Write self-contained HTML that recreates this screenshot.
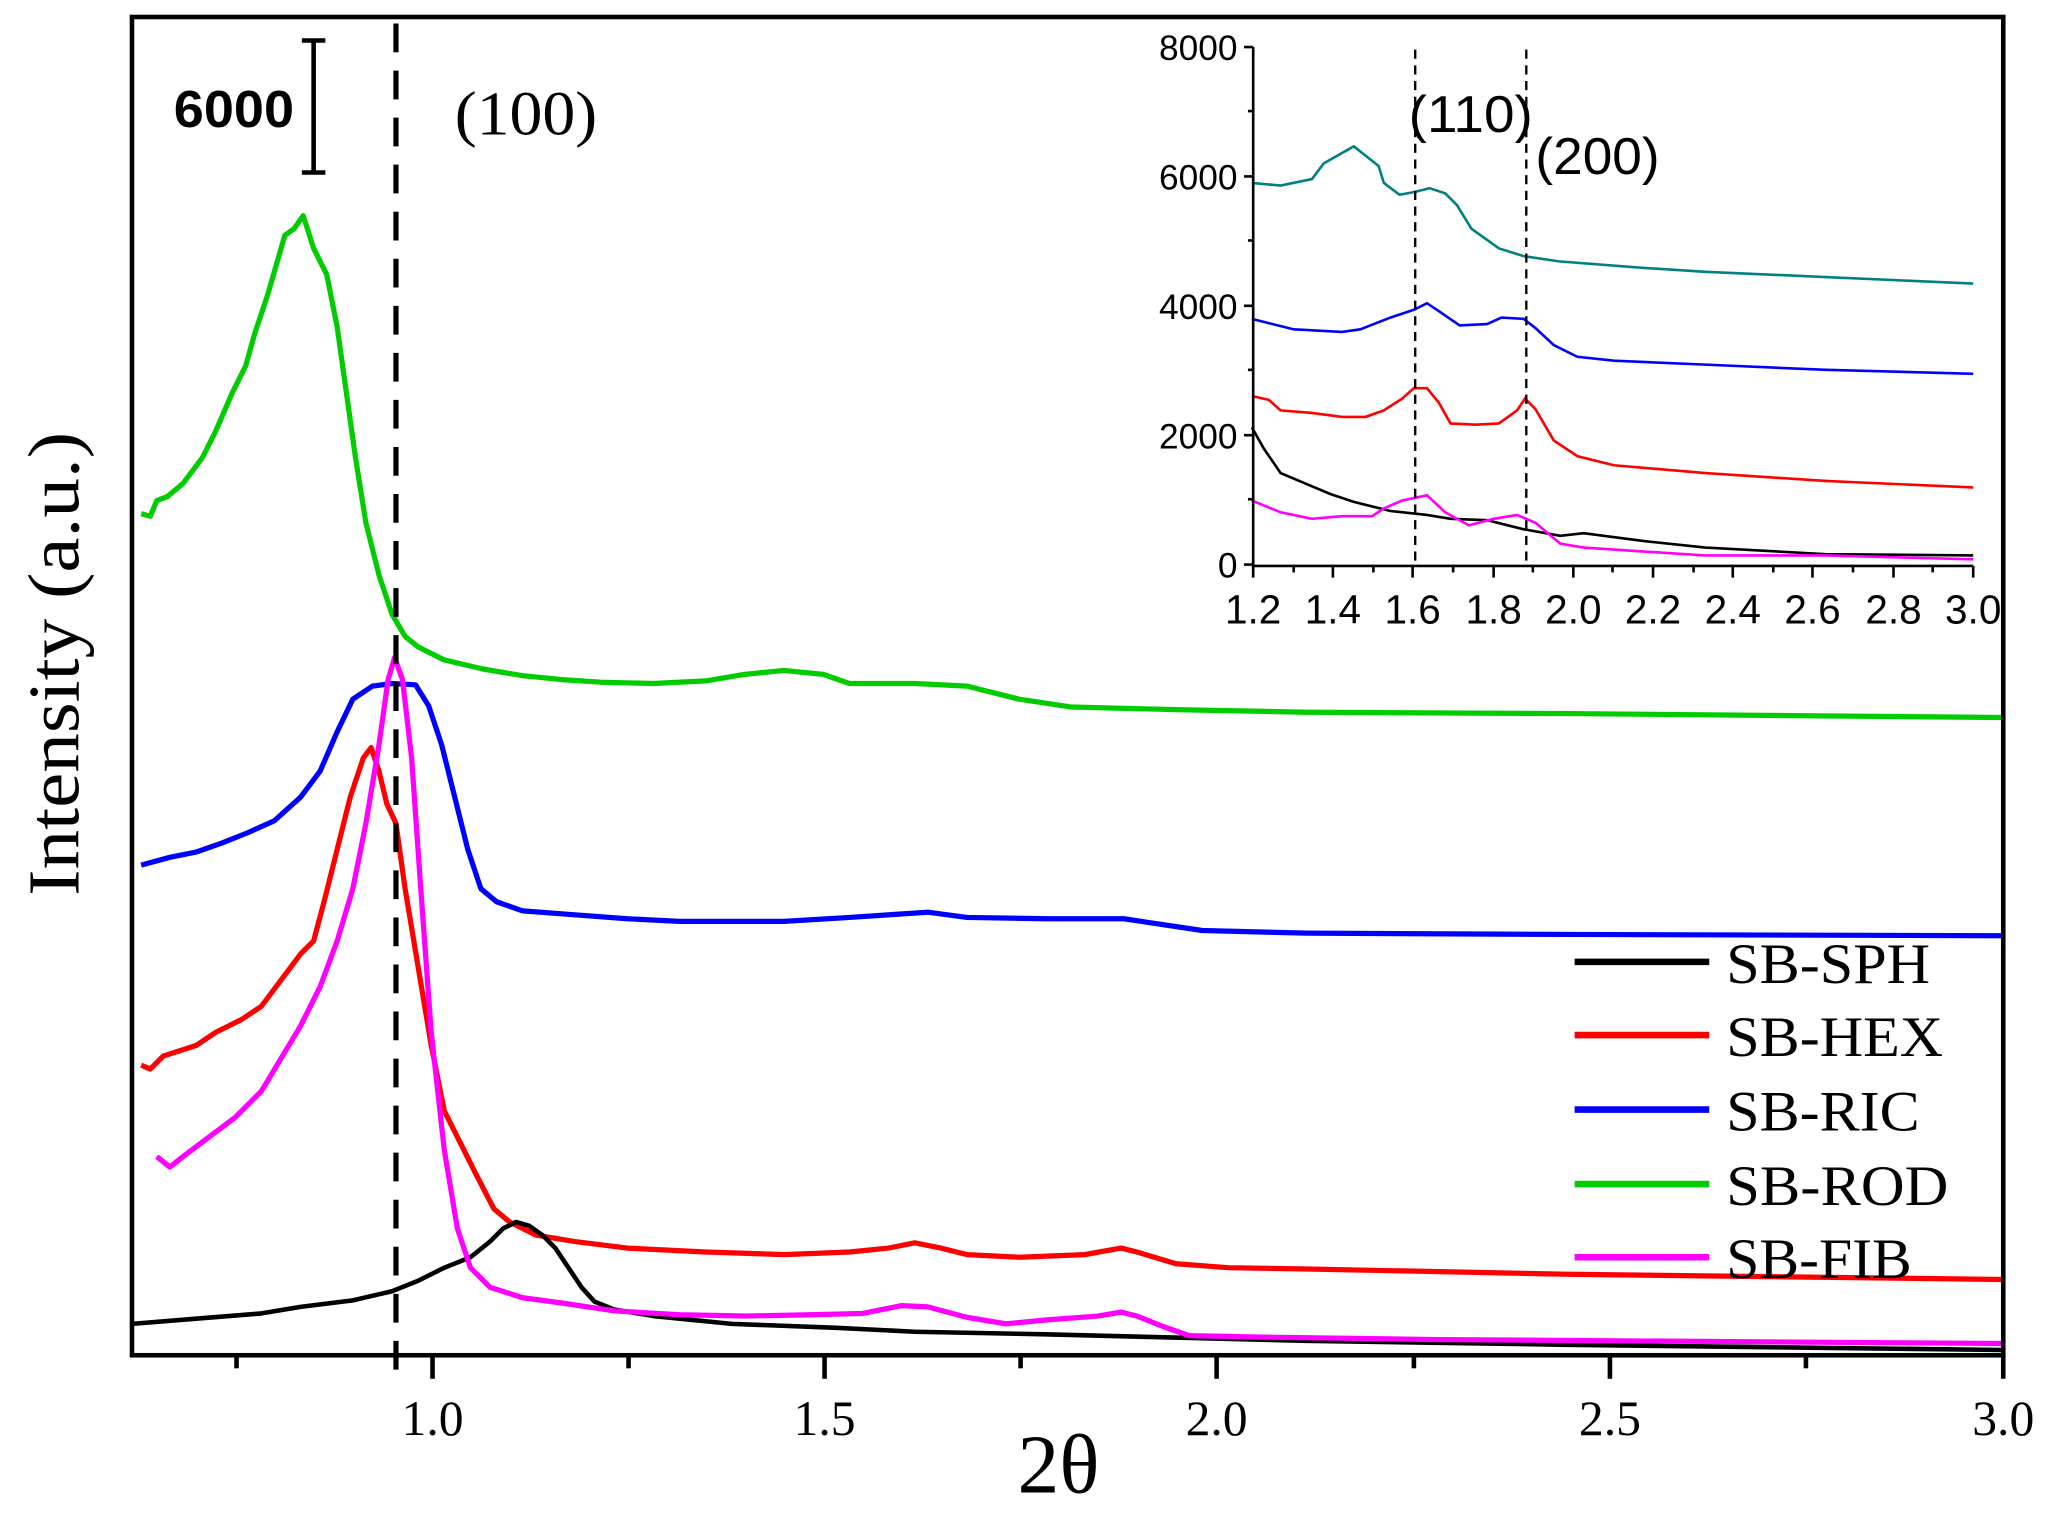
<!DOCTYPE html>
<html><head><meta charset="utf-8"><style>html,body{margin:0;padding:0;background:#fff}svg{display:block}</style></head>
<body>
<svg width="2049" height="1516" viewBox="0 0 1568 1160" preserveAspectRatio="none" xmlns="http://www.w3.org/2000/svg">
<rect width="1568" height="1160" fill="#fff"/>
<g fill="none" stroke-linejoin="round" stroke-width="4">
<polyline stroke="#00cc00" points="108,393 115,395 120,383 128,380 140,370 155,350 165,330 178,300 188,280 195,255 205,225 218,180 225,175 232,165 240,190 250,210 258,250 265,300 272,350 280,400 290,440 300,470 310,487 320,495 340,505 370,512 400,517 430,520 460,522 500,523 540,521 570,516 600,513 630,516 650,523 700,523 740,525 780,535 820,541 900,543 1000,545 1200,546 1533,549"/>
<polyline stroke="#0000ff" points="108,662 130,656 150,652 170,645 190,637 210,628 230,610 245,590 258,560 270,535 285,525 300,523 318,524 328,540 338,570 348,610 358,650 368,680 380,690 400,697 440,700 480,703 520,705 600,705 650,702 710,698 740,702 800,703 860,703 880,706 920,712 1000,714 1200,715 1533,716"/>
<polyline stroke="#ff0000" points="108,815 115,818 125,808 150,800 165,790 185,780 200,770 215,750 230,730 240,720 248,690 258,650 268,610 278,580 284,572 290,590 296,615 303,630 310,680 320,740 330,800 340,850 355,880 365,900 378,925 390,935 410,945 440,950 480,955 540,958 600,960 650,958 680,955 700,951 720,955 740,960 780,962 830,960 858,955 870,958 900,967 940,970 1000,971 1200,975 1533,979"/>
<polyline stroke="#000" stroke-width="3.5" points="101,1013 150,1009 200,1005 230,1000 270,995 300,988 320,980 340,970 360,962 375,950 385,940 395,935 405,938 415,945 425,955 435,970 445,985 455,996 470,1002 500,1007 560,1013 640,1016 700,1019 800,1021 880,1023 1000,1026 1200,1029 1533,1033"/>
<polyline stroke="#ff00ff" points="120,885 130,893 140,885 160,870 180,855 200,835 215,810 230,785 245,755 258,720 270,680 280,630 290,570 297,520 302,503 308,520 315,580 322,680 330,790 340,880 350,940 360,970 375,985 400,993 430,997 470,1003 520,1006 570,1007 620,1006 660,1005 690,999 710,1000 740,1008 770,1013 800,1010 840,1007 858,1004 870,1007 890,1015 910,1022 960,1023 1100,1025 1533,1028"/>
</g>
<line x1="303" y1="18" x2="303" y2="1048" stroke="#000" stroke-width="4" stroke-dasharray="22,14"/>
<rect x="101" y="13" width="1432" height="1024" fill="none" stroke="#000" stroke-width="3.5"/>
<g stroke="#000" stroke-width="3.5">
<line x1="331" y1="1037" x2="331" y2="1055"/><line x1="631" y1="1037" x2="631" y2="1055"/><line x1="931" y1="1037" x2="931" y2="1055"/><line x1="1232" y1="1037" x2="1232" y2="1055"/><line x1="1533" y1="1037" x2="1533" y2="1055"/>
<line x1="181" y1="1037" x2="181" y2="1047"/><line x1="481" y1="1037" x2="481" y2="1047"/><line x1="781" y1="1037" x2="781" y2="1047"/><line x1="1082" y1="1037" x2="1082" y2="1047"/><line x1="1382" y1="1037" x2="1382" y2="1047"/>
</g>
<g font-family="Liberation Serif, serif" font-size="38" text-anchor="middle" fill="#000">
<text x="331" y="1098">1.0</text><text x="631" y="1098">1.5</text><text x="931" y="1098">2.0</text><text x="1232" y="1098">2.5</text><text x="1533" y="1098">3.0</text>
</g>
<text x="810" y="1142" font-family="Liberation Serif, serif" font-size="64" text-anchor="middle">2θ</text>
<text transform="translate(60,508) rotate(-90)" font-family="Liberation Serif, serif" font-size="56" text-anchor="middle" textLength="355" lengthAdjust="spacingAndGlyphs">Intensity (a.u.)</text>
<g stroke="#000" stroke-width="3.5"><line x1="240" y1="31" x2="240" y2="132"/><line x1="231" y1="31" x2="249" y2="31"/><line x1="231" y1="132" x2="249" y2="132"/></g>
<text x="133" y="97" font-family="Liberation Sans, sans-serif" font-weight="bold" font-size="40" textLength="92" lengthAdjust="spacingAndGlyphs">6000</text>
<text x="348" y="103" font-family="Liberation Serif, serif" font-size="48" textLength="109" lengthAdjust="spacingAndGlyphs">(100)</text>
<g stroke-width="5">
<line x1="1205" y1="736" x2="1308" y2="736" stroke="#000"/>
<line x1="1205" y1="792" x2="1308" y2="792" stroke="#ff0000"/>
<line x1="1205" y1="849" x2="1308" y2="849" stroke="#0000ff"/>
<line x1="1205" y1="906" x2="1308" y2="906" stroke="#00cc00"/>
<line x1="1205" y1="962" x2="1308" y2="962" stroke="#ff00ff"/>
</g>
<g font-family="Liberation Serif, serif" font-size="44" fill="#000">
<text x="1321" y="752" textLength="156" lengthAdjust="spacingAndGlyphs">SB-SPH</text><text x="1321" y="808" textLength="166" lengthAdjust="spacingAndGlyphs">SB-HEX</text><text x="1321" y="865" textLength="148" lengthAdjust="spacingAndGlyphs">SB-RIC</text><text x="1321" y="922" textLength="170" lengthAdjust="spacingAndGlyphs">SB-ROD</text><text x="1321" y="978" textLength="142" lengthAdjust="spacingAndGlyphs">SB-FIB</text>
</g>
<g fill="none" stroke-width="2">
<polyline stroke="#008080" points="958,140 980,142 1004,137 1013,125 1036,112 1055,127 1059,140 1071,149 1082,147 1094,144 1106,148 1115,157 1126,175 1147,190 1166,196 1193,200 1258,205 1305,208 1397,212 1510,217"/>
<polyline stroke="#0000ff" points="958,244 990,252 1027,254 1041,252 1064,243 1082,237 1092,232 1101,238 1117,249 1138,248 1149,243 1166,244 1175,251 1189,264 1207,273 1235,276 1305,279 1397,283 1510,286"/>
<polyline stroke="#ff0000" points="958,303 971,306 980,314 1004,316 1027,319 1045,319 1059,314 1073,305 1082,297 1092,297 1101,308 1110,324 1129,325 1147,324 1161,314 1167,305 1175,313 1189,337 1207,349 1235,356 1305,362 1397,368 1510,373"/>
<polyline stroke="#000" points="958,327 967,343 980,362 999,370 1018,378 1036,384 1064,391 1092,394 1110,397 1138,398 1166,405 1194,410 1212,408 1258,414 1305,419 1397,424 1510,425"/>
<polyline stroke="#ff00ff" points="958,383 980,392 1004,397 1027,395 1050,395 1059,389 1073,383 1092,379 1106,392 1124,402 1143,397 1161,394 1175,400 1194,416 1212,419 1258,422 1305,425 1397,425 1510,428"/>
</g>
<g stroke="#000" stroke-width="1.8" stroke-dasharray="7,5"><line x1="1083" y1="38" x2="1083" y2="432"/><line x1="1168" y1="38" x2="1168" y2="432"/></g>
<g stroke="#000" stroke-width="2">
<line x1="959" y1="36" x2="959" y2="434"/><line x1="958" y1="433" x2="1510" y2="433"/>
<line x1="952" y1="36" x2="959" y2="36"/><line x1="952" y1="135" x2="959" y2="135"/><line x1="952" y1="234" x2="959" y2="234"/><line x1="952" y1="333" x2="959" y2="333"/><line x1="952" y1="432" x2="959" y2="432"/>
<line x1="955" y1="85" x2="959" y2="85"/><line x1="955" y1="184" x2="959" y2="184"/><line x1="955" y1="283" x2="959" y2="283"/><line x1="955" y1="382" x2="959" y2="382"/>
</g>
<g stroke="#000" stroke-width="2">
<line x1="959" y1="433" x2="959" y2="442"/><line x1="1020" y1="433" x2="1020" y2="442"/><line x1="1081" y1="433" x2="1081" y2="442"/><line x1="1143" y1="433" x2="1143" y2="442"/><line x1="1204" y1="433" x2="1204" y2="442"/><line x1="1265" y1="433" x2="1265" y2="442"/><line x1="1326" y1="433" x2="1326" y2="442"/><line x1="1387" y1="433" x2="1387" y2="442"/><line x1="1449" y1="433" x2="1449" y2="442"/><line x1="1510" y1="433" x2="1510" y2="442"/>
<line x1="990" y1="433" x2="990" y2="438"/><line x1="1051" y1="433" x2="1051" y2="438"/><line x1="1112" y1="433" x2="1112" y2="438"/><line x1="1173" y1="433" x2="1173" y2="438"/><line x1="1234" y1="433" x2="1234" y2="438"/><line x1="1296" y1="433" x2="1296" y2="438"/><line x1="1357" y1="433" x2="1357" y2="438"/><line x1="1418" y1="433" x2="1418" y2="438"/><line x1="1479" y1="433" x2="1479" y2="438"/>
</g>
<g font-family="Liberation Sans, sans-serif" font-size="27" text-anchor="end">
<text x="947" y="46">8000</text><text x="947" y="145">6000</text><text x="947" y="244">4000</text><text x="947" y="343">2000</text><text x="947" y="442">0</text>
</g>
<g font-family="Liberation Sans, sans-serif" font-size="31" text-anchor="middle">
<text x="959" y="477">1.2</text><text x="1020" y="477">1.4</text><text x="1081" y="477">1.6</text><text x="1143" y="477">1.8</text><text x="1204" y="477">2.0</text><text x="1265" y="477">2.2</text><text x="1326" y="477">2.4</text><text x="1387" y="477">2.6</text><text x="1449" y="477">2.8</text><text x="1510" y="477">3.0</text>
</g>
<text x="1078" y="101" font-family="Liberation Sans, sans-serif" font-size="40" textLength="95" lengthAdjust="spacingAndGlyphs">(110)</text>
<text x="1175" y="133" font-family="Liberation Sans, sans-serif" font-size="40" textLength="95" lengthAdjust="spacingAndGlyphs">(200)</text>
</svg>
</body></html>
